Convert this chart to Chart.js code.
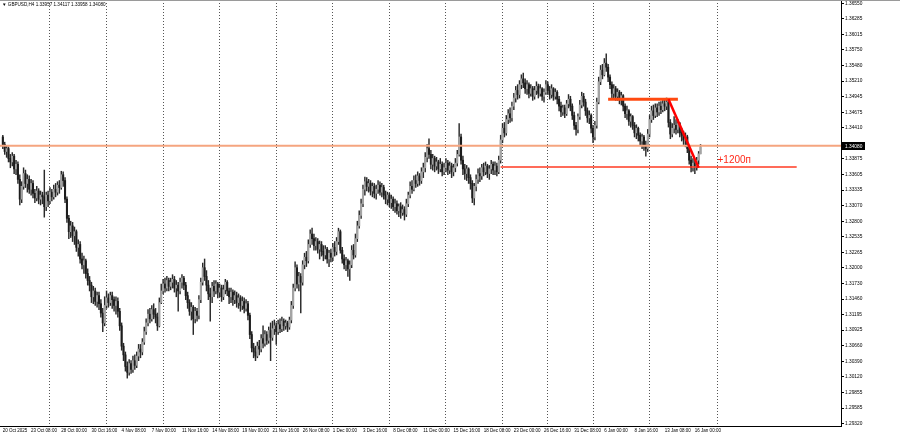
<!DOCTYPE html>
<html>
<head>
<meta charset="utf-8">
<script src="https://cdn.jsdelivr.net/npm/chart.js@4.4.1/dist/chart.umd.min.js"></script>
<style>
  html, body { margin: 0; padding: 0; background: #fff; }
  canvas { display: block; }
</style>
</head>
<body>
<canvas id="chart" width="900" height="436"></canvas>
<script>
// GBPUSD H4, 20 Oct 2025 - 16 Jan 2026
const firstOpen = 1.3425;
const closes = [
  1.3412,1.3400,1.3405,1.3388,1.3382,1.3392,1.3370,1.3378,1.3352,1.3318,
  1.3340,1.3362,1.3345,1.3352,1.3335,1.3345,1.3328,1.3320,1.3332,1.3318,
  1.3325,1.3322,1.3305,1.3325,1.3315,1.3330,1.3322,1.3335,1.3330,1.3342,
  1.3338,1.3360,1.3350,1.3318,1.3285,1.3262,1.3272,1.3255,1.3262,1.3235,
  1.3240,1.3215,1.3205,1.3212,1.3190,1.3178,1.3170,1.3150,1.3160,1.3142,
  1.3152,1.3138,1.3122,1.3105,1.3135,1.3148,1.3140,1.3152,1.3145,1.3135,
  1.3142,1.3125,1.3100,1.3065,1.3050,1.3030,1.3020,1.3035,1.3025,1.3040,
  1.3032,1.3048,1.3060,1.3055,1.3072,1.3090,1.3105,1.3120,1.3112,1.3128,
  1.3120,1.3115,1.3100,1.3140,1.3160,1.3172,1.3165,1.3178,1.3168,1.3175,
  1.3180,1.3165,1.3170,1.3160,1.3175,1.3182,1.3170,1.3152,1.3140,1.3125,
  1.3132,1.3112,1.3125,1.3118,1.3145,1.3175,1.3200,1.3185,1.3170,1.3155,
  1.3150,1.3168,1.3160,1.3172,1.3158,1.3165,1.3150,1.3162,1.3175,1.3160,
  1.3150,1.3158,1.3145,1.3152,1.3140,1.3148,1.3135,1.3142,1.3130,1.3138,
  1.3118,1.3085,1.3062,1.3055,1.3048,1.3065,1.3060,1.3078,1.3070,1.3085,
  1.3075,1.3092,1.3080,1.3095,1.3100,1.3090,1.3102,1.3095,1.3108,1.3100,
  1.3105,1.3098,1.3110,1.3135,1.3165,1.3200,1.3172,1.3185,1.3175,1.3205,
  1.3218,1.3212,1.3240,1.3258,1.3250,1.3238,1.3245,1.3232,1.3240,1.3228,
  1.3222,1.3232,1.3215,1.3225,1.3218,1.3235,1.3228,1.3245,1.3262,1.3230,
  1.3215,1.3205,1.3212,1.3198,1.3205,1.3230,1.3222,1.3250,1.3272,1.3290,
  1.3310,1.3335,1.3348,1.3340,1.3345,1.3332,1.3340,1.3328,1.3335,1.3342,
  1.3330,1.3338,1.3325,1.3318,1.3325,1.3312,1.3318,1.3305,1.3310,1.3298,
  1.3305,1.3295,1.3300,1.3292,1.3310,1.3325,1.3340,1.3335,1.3350,1.3345,
  1.3358,1.3350,1.3365,1.3372,1.3390,1.3405,1.3395,1.3378,1.3388,1.3375,
  1.3382,1.3370,1.3378,1.3365,1.3372,1.3380,1.3368,1.3375,1.3365,1.3372,
  1.3380,1.3395,1.3425,1.3385,1.3370,1.3362,1.3370,1.3355,1.3345,1.3320,
  1.3340,1.3352,1.3362,1.3358,1.3372,1.3365,1.3375,1.3362,1.3370,1.3378,
  1.3368,1.3375,1.3365,1.3385,1.3420,1.3440,1.3432,1.3455,1.3465,1.3458,
  1.3478,1.3492,1.3505,1.3498,1.3515,1.3525,1.3518,1.3508,1.3515,1.3500,
  1.3508,1.3495,1.3505,1.3512,1.3500,1.3508,1.3495,1.3502,1.3515,1.3505,
  1.3498,1.3508,1.3495,1.3502,1.3490,1.3478,1.3468,1.3475,1.3465,1.3482,
  1.3490,1.3478,1.3462,1.3445,1.3438,1.3460,1.3480,1.3495,1.3485,1.3470,
  1.3458,1.3462,1.3440,1.3425,1.3445,1.3485,1.3520,1.3540,1.3532,1.3552,
  1.3545,1.3528,1.3515,1.3500,1.3508,1.3495,1.3502,1.3490,1.3496,1.3478,
  1.3465,1.3470,1.3452,1.3460,1.3445,1.3432,1.3440,1.3428,1.3418,1.3425,
  1.3410,1.3405,1.3430,1.3455,1.3470,1.3462,1.3475,1.3468,1.3478,1.3472,
  1.3482,1.3478,1.3485,1.3450,1.3430,1.3440,1.3445,1.3438,1.3448,1.3432,
  1.3428,1.3420,1.3425,1.3405,1.3385,1.3372,1.3380,1.3375,1.3385,1.3396,
  1.3408
];
const highs = [
  1.3428,1.3416,1.3410,1.3408,1.3395,1.3398,1.3395,1.3385,1.3382,1.3360,
  1.3348,1.3372,1.3368,1.3360,1.3358,1.3352,1.3350,1.3335,1.3340,1.3336,
  1.3332,1.3330,1.3368,1.3330,1.3332,1.3338,1.3335,1.3342,1.3345,1.3348,
  1.3350,1.3366,1.3365,1.3355,1.3322,1.3290,1.3280,1.3278,1.3270,1.3265,
  1.3248,1.3245,1.3225,1.3220,1.3215,1.3198,1.3185,1.3175,1.3168,1.3165,
  1.3158,1.3158,1.3145,1.3130,1.3150,1.3160,1.3155,1.3158,1.3158,1.3150,
  1.3150,1.3148,1.3130,1.3105,1.3070,1.3055,1.3038,1.3042,1.3040,1.3048,
  1.3050,1.3055,1.3068,1.3068,1.3078,1.3098,1.3112,1.3128,1.3130,1.3135,
  1.3138,1.3130,1.3122,1.3148,1.3172,1.3180,1.3182,1.3185,1.3182,1.3182,
  1.3188,1.3185,1.3178,1.3175,1.3182,1.3188,1.3185,1.3175,1.3158,1.3145,
  1.3140,1.3135,1.3132,1.3130,1.3152,1.3182,1.3208,1.3215,1.3195,1.3178,
  1.3165,1.3175,1.3178,1.3178,1.3175,1.3172,1.3170,1.3170,1.3180,1.3178,
  1.3165,1.3165,1.3162,1.3160,1.3158,1.3155,1.3152,1.3150,1.3148,1.3145,
  1.3142,1.3122,1.3090,1.3070,1.3065,1.3072,1.3075,1.3085,1.3100,1.3092,
  1.3090,1.3098,1.3105,1.3108,1.3110,1.3105,1.3110,1.3112,1.3115,1.3112,
  1.3110,1.3108,1.3115,1.3142,1.3172,1.3210,1.3205,1.3192,1.3190,1.3212,
  1.3225,1.3228,1.3248,1.3265,1.3268,1.3258,1.3252,1.3250,1.3246,1.3245,
  1.3238,1.3238,1.3235,1.3230,1.3232,1.3242,1.3245,1.3252,1.3268,1.3265,
  1.3235,1.3222,1.3218,1.3215,1.3212,1.3238,1.3240,1.3258,1.3280,1.3298,
  1.3318,1.3342,1.3356,1.3355,1.3352,1.3350,1.3346,1.3345,1.3342,1.3350,
  1.3348,1.3345,1.3342,1.3332,1.3330,1.3328,1.3325,1.3322,1.3318,1.3315,
  1.3310,1.3312,1.3308,1.3305,1.3318,1.3330,1.3348,1.3350,1.3358,1.3360,
  1.3365,1.3362,1.3372,1.3380,1.3398,1.3412,1.3422,1.3402,1.3395,1.3392,
  1.3390,1.3385,1.3388,1.3382,1.3380,1.3388,1.3385,1.3382,1.3380,1.3378,
  1.3388,1.3402,1.3448,1.3430,1.3392,1.3378,1.3376,1.3372,1.3360,1.3350,
  1.3345,1.3360,1.3370,1.3372,1.3378,1.3380,1.3382,1.3378,1.3376,1.3385,
  1.3382,1.3382,1.3380,1.3392,1.3428,1.3448,1.3450,1.3462,1.3472,1.3475,
  1.3485,1.3500,1.3512,1.3515,1.3522,1.3532,1.3535,1.3525,1.3522,1.3518,
  1.3515,1.3512,1.3512,1.3520,1.3516,1.3515,1.3510,1.3508,1.3522,1.3520,
  1.3512,1.3515,1.3510,1.3508,1.3505,1.3495,1.3485,1.3480,1.3480,1.3488,
  1.3498,1.3495,1.3482,1.3468,1.3450,1.3465,1.3488,1.3502,1.3500,1.3490,
  1.3475,1.3470,1.3465,1.3445,1.3452,1.3492,1.3528,1.3548,1.3550,1.3560,
  1.3568,1.3550,1.3532,1.3520,1.3515,1.3512,1.3508,1.3505,1.3502,1.3498,
  1.3482,1.3478,1.3472,1.3465,1.3462,1.3450,1.3446,1.3442,1.3432,1.3430,
  1.3428,1.3418,1.3438,1.3462,1.3478,1.3480,1.3482,1.3482,1.3485,1.3486,
  1.3488,1.3490,1.3492,1.3490,1.3455,1.3448,1.3460,1.3455,1.3455,1.3450,
  1.3440,1.3435,1.3432,1.3428,1.3410,1.3392,1.3388,1.3385,1.3390,1.3400,
  1.3412
];
const lows = [
  1.3405,1.3395,1.3390,1.3382,1.3372,1.3375,1.3362,1.3360,1.3345,1.3308,
  1.3312,1.3335,1.3338,1.3330,1.3328,1.3325,1.3320,1.3312,1.3315,1.3310,
  1.3308,1.3310,1.3287,1.3298,1.3305,1.3310,1.3315,1.3318,1.3322,1.3325,
  1.3328,1.3335,1.3340,1.3312,1.3278,1.3250,1.3252,1.3245,1.3240,1.3228,
  1.3220,1.3208,1.3198,1.3190,1.3182,1.3170,1.3160,1.3140,1.3138,1.3135,
  1.3132,1.3128,1.3115,1.3090,1.3100,1.3130,1.3132,1.3135,1.3130,1.3125,
  1.3120,1.3115,1.3092,1.3058,1.3040,1.3022,1.3010,1.3015,1.3018,1.3020,
  1.3025,1.3028,1.3040,1.3045,1.3050,1.3068,1.3085,1.3100,1.3105,1.3108,
  1.3112,1.3105,1.3092,1.3098,1.3138,1.3155,1.3158,1.3160,1.3160,1.3162,
  1.3165,1.3158,1.3150,1.3125,1.3155,1.3165,1.3162,1.3145,1.3130,1.3118,
  1.3110,1.3085,1.3105,1.3108,1.3112,1.3140,1.3170,1.3178,1.3160,1.3145,
  1.3108,1.3140,1.3150,1.3155,1.3148,1.3150,1.3142,1.3145,1.3155,1.3152,
  1.3138,1.3140,1.3135,1.3138,1.3132,1.3130,1.3125,1.3128,1.3122,1.3125,
  1.3110,1.3078,1.3055,1.3045,1.3040,1.3045,1.3050,1.3055,1.3062,1.3065,
  1.3068,1.3070,1.3040,1.3075,1.3085,1.3068,1.3085,1.3088,1.3090,1.3092,
  1.3094,1.3090,1.3094,1.3105,1.3130,1.3160,1.3165,1.3160,1.3122,1.3170,
  1.3198,1.3202,1.3208,1.3235,1.3240,1.3230,1.3230,1.3225,1.3215,1.3220,
  1.3212,1.3215,1.3208,1.3202,1.3210,1.3212,1.3220,1.3222,1.3240,1.3225,
  1.3208,1.3198,1.3195,1.3185,1.3178,1.3200,1.3215,1.3218,1.3245,1.3268,
  1.3285,1.3305,1.3325,1.3332,1.3330,1.3325,1.3322,1.3320,1.3318,1.3328,
  1.3325,1.3322,1.3318,1.3310,1.3308,1.3305,1.3302,1.3298,1.3295,1.3292,
  1.3288,1.3285,1.3290,1.3282,1.3288,1.3305,1.3320,1.3328,1.3332,1.3338,
  1.3340,1.3342,1.3345,1.3355,1.3365,1.3382,1.3388,1.3370,1.3368,1.3365,
  1.3368,1.3362,1.3365,1.3358,1.3360,1.3365,1.3360,1.3362,1.3355,1.3358,
  1.3365,1.3375,1.3392,1.3378,1.3360,1.3352,1.3350,1.3345,1.3335,1.3312,
  1.3308,1.3332,1.3345,1.3348,1.3352,1.3358,1.3360,1.3355,1.3352,1.3362,
  1.3360,1.3360,1.3358,1.3362,1.3380,1.3415,1.3425,1.3428,1.3448,1.3450,
  1.3452,1.3472,1.3485,1.3490,1.3492,1.3508,1.3510,1.3500,1.3498,1.3492,
  1.3495,1.3488,1.3490,1.3498,1.3492,1.3495,1.3488,1.3485,1.3498,1.3498,
  1.3490,1.3492,1.3488,1.3490,1.3482,1.3470,1.3460,1.3462,1.3458,1.3462,
  1.3475,1.3470,1.3455,1.3438,1.3428,1.3432,1.3455,1.3475,1.3478,1.3462,
  1.3450,1.3448,1.3432,1.3415,1.3420,1.3440,1.3482,1.3515,1.3525,1.3530,
  1.3538,1.3520,1.3508,1.3492,1.3490,1.3488,1.3488,1.3482,1.3480,1.3470,
  1.3458,1.3455,1.3445,1.3442,1.3438,1.3425,1.3422,1.3418,1.3410,1.3405,
  1.3402,1.3392,1.3400,1.3425,1.3450,1.3455,1.3458,1.3460,1.3462,1.3465,
  1.3468,1.3470,1.3472,1.3442,1.3422,1.3425,1.3432,1.3430,1.3432,1.3425,
  1.3418,1.3412,1.3408,1.3398,1.3378,1.3365,1.3366,1.3362,1.3368,1.3378,
  1.3396
];

// x axis: date labels and the bar each one sits on
const tickLabels = ['20 Oct 2025','23 Oct 08:00','28 Oct 00:00','30 Oct 16:00','4 Nov 08:00','7 Nov 00:00',
  '11 Nov 16:00','14 Nov 08:00','19 Nov 00:00','21 Nov 16:00','26 Nov 08:00','1 Dec 00:00','3 Dec 16:00',
  '8 Dec 08:00','11 Dec 00:00','15 Dec 16:00','18 Dec 08:00','23 Dec 00:00','26 Dec 16:00','31 Dec 08:00',
  '6 Jan 00:00','8 Jan 16:00','13 Jan 08:00','16 Jan 00:00'];
const tickBars = [0,15,31,47,63,79,95,111,127,143,159,175,191,207,223,239,255,271,287,303,319,335,351,367];
// week separators (dotted vertical grid)
const gridBars = [25,55,85,115,145,175,205,235,265,289,313,343,379];

// y axis price labels
const yTicks = [1.36550,1.36285,1.36015,1.35750,1.35480,1.35210,1.34945,1.34675,1.34410,
  1.33875,1.33605,1.33335,1.33070,1.32800,1.32535,1.32265,1.32000,1.31730,1.31460,1.31195,
  1.30925,1.30660,1.30390,1.30120,1.29855,1.29585,1.29320];
const priceMin = 1.29276, priceMax = 1.36607;

// drawn objects: level line, move line, target line
const levelLine = { from: 321, to: 358, price: 1.3490 };
const moveLine = { from: 353, p1: 1.3490, to: 369, p2: 1.3372 };
const targetLine = { from: 264, to: 421, price: 1.3373, text: '+1200п', textBar: 379 };
const titleText = '▼ GBPUSD,H4 1.33957 1.34117 1.33958 1.34080';

const NCAT = 446; // visible bar slots incl. right shift
const labels = new Array(NCAT).fill('');
tickBars.forEach((b, k) => { labels[b + 1] = tickLabels[k]; });
const gridCats = gridBars.map(b => b + 1);

const opens = closes.map((c, i) => i === 0 ? firstOpen : closes[i - 1]);
const bodies = [null].concat(closes.map((c, i) => [opens[i], c]));
const wicks = [null].concat(lows.map((l, i) => [l, highs[i]]));
const bodyColors = ['#000'].concat(closes.map((c, i) => c >= opens[i] ? '#a4a4a4' : '#1c1c1c'));

const axisFont = { family: "'Liberation Sans', Arial, sans-serif", size: 4.8 };
const dateFont = { family: "'Liberation Sans', Arial, sans-serif", size: 4.5 };

const overlay = {
  id: 'overlay',
  afterDatasetsDraw(chart) {
    const { ctx, chartArea: a } = chart;
    const x = chart.scales.x, y = chart.scales.y;
    const px = b => x.getPixelForValue(b + 1);
    ctx.save();
    // bid line
    const last = closes[closes.length - 1];
    ctx.strokeStyle = '#f5a57f';
    ctx.lineWidth = 2;
    ctx.beginPath();
    ctx.moveTo(a.left, y.getPixelForValue(last) - 1);
    ctx.lineTo(a.right, y.getPixelForValue(last) - 1);
    ctx.stroke();
    // target line
    const ty = Math.round(y.getPixelForValue(targetLine.price));
    ctx.strokeStyle = '#ff3a22';
    ctx.lineWidth = 1.5;
    ctx.beginPath();
    ctx.moveTo(px(targetLine.from), ty);
    ctx.lineTo(px(targetLine.to), ty);
    ctx.stroke();
    // level line
    ctx.strokeStyle = '#ff4a10';
    ctx.lineWidth = 3;
    ctx.beginPath();
    ctx.moveTo(px(levelLine.from), y.getPixelForValue(levelLine.price));
    ctx.lineTo(px(levelLine.to), y.getPixelForValue(levelLine.price));
    ctx.stroke();
    // move line
    ctx.strokeStyle = '#ff0000';
    ctx.lineWidth = 2.5;
    ctx.beginPath();
    ctx.moveTo(px(moveLine.from), y.getPixelForValue(moveLine.p1));
    ctx.lineTo(px(moveLine.to), y.getPixelForValue(moveLine.p2));
    ctx.stroke();
    // label
    ctx.fillStyle = '#ff2a1a';
    ctx.font = "10px 'Liberation Sans', Arial, sans-serif";
    ctx.textBaseline = 'middle';
    ctx.fillText(targetLine.text, px(targetLine.textBar), ty - 7);
    ctx.restore();
  },
  afterDraw(chart) {
    const { ctx, chartArea: a } = chart;
    const y = chart.scales.y;
    const last = closes[closes.length - 1];
    const yy = Math.round(y.getPixelForValue(last)) - 1;
    ctx.save();
    // price box on the axis
    ctx.fillStyle = '#000';
    ctx.fillRect(a.right + 1, yy - 4, 23, 8);
    ctx.fillStyle = '#fff';
    ctx.font = "4.8px 'Liberation Sans', Arial, sans-serif";
    ctx.textBaseline = 'middle';
    ctx.fillText(last.toFixed(5), a.right + 4, yy + 0.5);
    // title line and top border
    ctx.fillStyle = '#000';
    ctx.font = "4.6px 'Liberation Sans', Arial, sans-serif";
    ctx.fillText(titleText, 2, 5);
    ctx.fillStyle = '#9a9a9a';
    ctx.fillRect(0, 0, 900, 1);
    ctx.restore();
  }
};

new Chart(document.getElementById('chart'), {
  type: 'bar',
  data: {
    labels: labels,
    datasets: [
      { data: wicks, backgroundColor: '#2a2a2a', barThickness: 0.8, grouped: false, order: 1 },
      { data: bodies, backgroundColor: bodyColors, barThickness: 1.4, grouped: false, order: 0, minBarLength: 1 }
    ]
  },
  options: {
    responsive: false,
    animation: false,
    layout: { padding: 0 },
    plugins: { legend: { display: false }, tooltip: { enabled: false } },
    scales: {
      x: {
        offset: true,
        grid: {
          offset: false,
          drawTicks: false,
          lineWidth: 1,
          color: ctx => gridCats.includes(ctx.index) ? '#555' : 'rgba(0,0,0,0)'
        },
        border: { display: true, color: '#000', dash: [1, 2] },
        ticks: { autoSkip: false, maxRotation: 0, minRotation: 0, align: 'start', padding: 2, color: '#000', font: dateFont },
        afterFit: s => { s.height = 10; s.paddingLeft = 0; s.paddingRight = 0; }
      },
      y: {
        position: 'right',
        min: priceMin,
        max: priceMax,
        afterBuildTicks: s => { s.ticks = yTicks.map(v => ({ value: v })); },
        grid: { drawOnChartArea: false, drawTicks: true, tickLength: 3, color: '#000' },
        border: { display: true, color: '#000' },
        ticks: { padding: 1, color: '#000', font: axisFont, callback: v => v.toFixed(5) },
        afterFit: s => { s.width = 59; s.paddingTop = 0; s.paddingBottom = 0; }
      }
    }
  },
  plugins: [overlay]
});
</script>
</body>
</html>
